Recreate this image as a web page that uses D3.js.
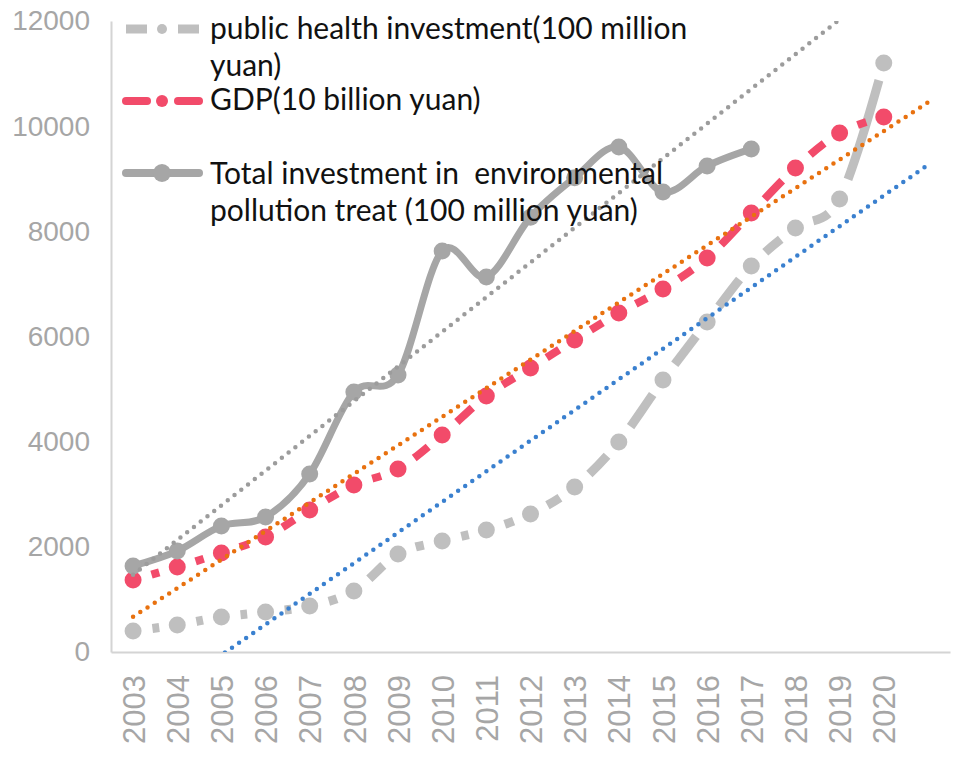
<!DOCTYPE html>
<html>
<head>
<meta charset="utf-8">
<script src="https://cdnjs.cloudflare.com/ajax/libs/d3/7.8.5/d3.min.js"></script>
<style>
  body { margin: 0; background: #fff; }
  svg { display: block; }
  .legend text { font-family: Lato, "Open Sans", sans-serif; fill: #111; white-space: pre; }
</style>
</head>
<body>
<div id="chart"></div>
<script>
// categories (2021 is the one forecast slot the trendlines run into)
var years = ['2003','2004','2005','2006','2007','2008','2009','2010','2011',
             '2012','2013','2014','2015','2016','2017','2018','2019','2020'];
var publicHealth = [400,514,666,761,875,1160,1864,2111,2320,2625,3138,3994,5173,6277,7342,8064,8616,11203];
var gdp = [1370,1617,1883,2187,2701,3176,3481,4127,4869,5402,5934,6448,6904,7494,8350,9206,9870,10176];
var totalInvest = [1636,1921,2397,2568,3386,4945,5269,7627,7133,8270,9020,9603,8748,9243,9567];
var yTicks = [0,2000,4000,6000,8000,10000,12000];

var W = 957, H = 769,
    m = {t:21, r:7, b:117, l:111},
    w = W - m.l - m.r,
    h = H - m.t - m.b;

var svg = d3.select('#chart').append('svg').attr('width',W).attr('height',H);
var plot = svg.append('g').attr('transform','translate(' + m.l + ',' + m.t + ')');

//Scales: one slot per year plus one forecast slot
var scaleX = d3.scaleLinear().domain([-0.5, years.length + 0.5]).range([0, w]);
var scaleY = d3.scaleLinear().domain([0, 12000]).range([h, 0]);

plot.append('clipPath').attr('id','clip')
  .append('rect').attr('width',w).attr('height',h);

//Axes
var axisY = d3.axisLeft(scaleY).tickValues(yTicks).tickFormat(d3.format('d')).tickSize(0).tickPadding(21);
var gY = plot.append('g').call(axisY);
gY.select('.domain').attr('stroke','#d4d4d4').attr('stroke-width',2);
gY.selectAll('text').attr('fill','#a6a6a6').style('font-family','"Liberation Sans", Arial, sans-serif').style('font-size','28px');

var axisX = d3.axisBottom(scaleX).tickValues(d3.range(years.length))
  .tickFormat(function(i){ return years[i]; }).tickSize(0).tickSizeOuter(0);
var gX = plot.append('g').attr('transform','translate(0,' + h + ')').call(axisX);
gX.select('.domain').attr('stroke','#d4d4d4').attr('stroke-width',2);
gX.selectAll('text')
  .attr('transform','rotate(-90)')
  .attr('x',-23).attr('y',0).attr('dy','0.36em')
  .attr('text-anchor','end')
  .attr('fill','#a6a6a6')
  .style('font-family','"Liberation Sans", Arial, sans-serif').style('font-size','31px');

//Series
var series = [
  {values: publicHealth, color:'#bfbfbf', width:9, dashed:true,  r:8.5, trend:'#3a80cf'},
  {values: gdp,          color:'#f24b6a', width:8, dashed:true,  r:8.5, trend:'#e8710f'},
  {values: totalInvest,  color:'#a6a6a6', width:7, dashed:false, r:8.5, trend:'#9c9c9c'}
];

var line = d3.line()
  .x(function(d,i){ return scaleX(i); })
  .y(function(d){ return scaleY(d); })
  .curve(d3.curveCardinal.tension(0));

function lerp(a, b, t){ return [a[0] + (b[0]-a[0])*t, a[1] + (b[1]-a[1])*t]; }
function bez(q, t){
  var a = lerp(q[0],q[1],t), b = lerp(q[1],q[2],t), c = lerp(q[2],q[3],t),
      d = lerp(a,b,t), e = lerp(b,c,t);
  return {pt: lerp(d,e,t), left: [q[0],a,d,lerp(d,e,t)], right: [lerp(d,e,t),e,c,q[3]]};
}

//the same smoothed curve as `line`, one bezier per pair of markers,
//trimmed so a single dash sits in the middle of each piece
function dashes(vals, gap){
  var p = vals.map(function(v,i){ return [scaleX(i), scaleY(v)]; }), k = 1/6, out = [];
  for (var i = 0; i < p.length - 1; i++){
    var a = p[i], b = p[i+1],
        pa = i > 0 ? p[i-1] : b,
        pb = i < p.length - 2 ? p[i+2] : a;
    var c1 = i === 0 ? a : [a[0] + k*(b[0] - pa[0]), a[1] + k*(b[1] - pa[1])],
        c2 = i === p.length - 2 ? b : [b[0] - k*(pb[0] - a[0]), b[1] - k*(pb[1] - a[1])];
    var q = [a, c1, c2, b];
    //cumulative length by sampling, then find t for each end of the dash
    var samples = [0], prev = a, n = 60;
    for (var j = 1; j <= n; j++){
      var pt = bez(q, j/n).pt;
      samples.push(samples[j-1] + Math.hypot(pt[0]-prev[0], pt[1]-prev[1]));
      prev = pt;
    }
    var L = samples[n], g = Math.min(gap, (L - 7)/2);
    var tAt = function(len){
      var j = d3.bisectLeft(samples, len);
      return Math.max(0, Math.min(1, j/n));
    };
    var t1 = tAt(g), t2 = tAt(L - g);
    var right = bez(q, t1).right;
    var piece = bez(right, (t2 - t1)/(1 - t1)).left;
    var ctx = d3.path();
    ctx.moveTo(piece[0][0], piece[0][1]);
    ctx.bezierCurveTo(piece[1][0], piece[1][1], piece[2][0], piece[2][1], piece[3][0], piece[3][1]);
    out.push(ctx.toString());
  }
  return out;
}

series.forEach(function(s){
  if (s.dashed) {
    plot.selectAll(null).data(dashes(s.values, 19)).enter().append('path')
      .attr('d', function(d){ return d; })
      .attr('fill','none')
      .attr('stroke', s.color)
      .attr('stroke-width', s.width);
  } else {
    plot.append('path').datum(s.values)
      .attr('d', line)
      .attr('fill','none')
      .attr('stroke', s.color)
      .attr('stroke-width', s.width);
  }
  plot.selectAll(null).data(s.values).enter().append('circle')
    .attr('cx', function(d,i){ return scaleX(i); })
    .attr('cy', function(d){ return scaleY(d); })
    .attr('r', s.r)
    .attr('fill', s.color);
});

//Linear trendlines, forecast forward one period
function linearFit(vals){
  var n = vals.length, mx = (n-1)/2, my = d3.mean(vals), sxy = 0, sxx = 0;
  vals.forEach(function(v,i){ sxy += (i-mx)*(v-my); sxx += (i-mx)*(i-mx); });
  var b = sxy/sxx;
  return function(x){ return my + b*(x - mx); };
}

series.forEach(function(s){
  var f = linearFit(s.values),
      x1 = s.values === totalInvest ? years.length + 0.5 : years.length;
  plot.append('line')
    .attr('clip-path','url(#clip)')
    .attr('x1', scaleX(0)).attr('y1', scaleY(f(0)))
    .attr('x2', scaleX(x1)).attr('y2', scaleY(f(x1)))
    .attr('stroke', s.trend)
    .attr('stroke-width', 4.5)
    .attr('stroke-linecap','round')
    .attr('stroke-dasharray','0 8.6');
});

//Legend
var legend = svg.append('g').attr('class','legend');
var items = [
  {s: series[0], y:29, mr:5, cap:'butt', lines:['public health investment(100 million','yuan)'], ty:39},
  {s: series[1], y:101, mr:6, cap:'round', lines:['GDP(10 billion yuan)'], ty:110},
  {s: series[2], y:173, mr:9, cap:'round', lines:['Total investment in  environmental','pollution treat (100 million yuan)'], ty:184}
];
items.forEach(function(it){
  var g = legend.append('g');
  if (it.s.dashed) {
    [[126,147],[178,199]].forEach(function(p){
      g.append('line').attr('x1',p[0]).attr('x2',p[1]).attr('y1',it.y).attr('y2',it.y)
        .attr('stroke',it.s.color).attr('stroke-width',it.s.width).attr('stroke-linecap',it.cap);
    });
  } else {
    g.append('line').attr('x1',126).attr('x2',199).attr('y1',it.y).attr('y2',it.y)
      .attr('stroke',it.s.color).attr('stroke-width',8).attr('stroke-linecap','round');
  }
  g.append('circle').attr('cx',162).attr('cy',it.y).attr('r',it.mr).attr('fill',it.s.color);
  it.lines.forEach(function(t,k){
    g.append('text').attr('x',210).attr('y',it.ty + k*37).style('font-size','30px').text(t);
  });
});
</script>
</body>
</html>
